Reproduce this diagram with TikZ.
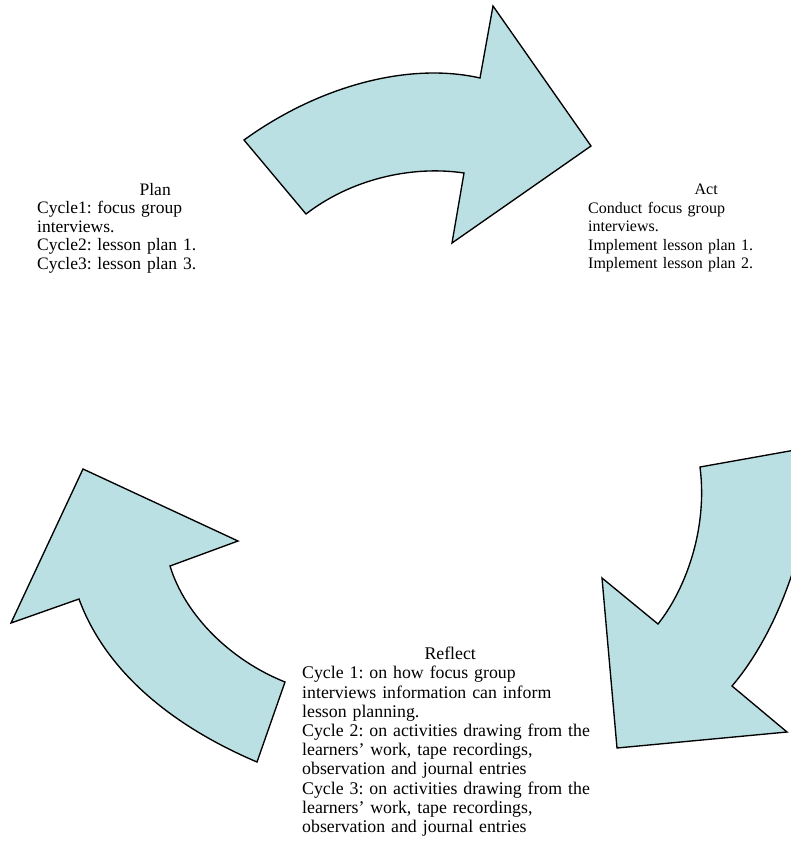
\documentclass[tikz,border=0pt]{standalone}
\usepackage{fontspec}
\setmainfont{Liberation Serif}
\frenchspacing
\definecolor{arrowfill}{RGB}{187,224,227}

\begin{document}
\begin{tikzpicture}[
    x = 1pt, y = -1pt, % pixel grid, y runs down
    line join = miter % sharp arrow corners
    ]

    \tikzset{bend arrow/.style={
    draw = black,
    line width = 1.35pt,
    fill = arrowfill
    }}
    \tikzset{stage/.style={
    inner sep = 0pt,
    anchor = north west,
    font = \fontsize{16}{18.5}\selectfont
    }}

    \useasboundingbox (0,0) rectangle (791,859);

    % plan -> act
    \draw[bend arrow] (244,140) .. controls (320,85) and (410,62) .. (480,78)
        -- (493,6) -- (591,146) -- (452,243) -- (464,173)
        .. controls (410,165) and (350,180) .. (306,214) -- cycle;
    % act -> reflect
    \draw[bend arrow] (700,467) -- (812,447)
        .. controls (815,530) and (780,630) .. (732,686)
        -- (787,732) -- (617,748) -- (602,578) -- (658,624)
        .. controls (685,590) and (708,530) .. (700,467) -- cycle;
    % reflect -> plan
    \draw[bend arrow] (83,469) -- (238,541) -- (170,566)
        .. controls (185,615) and (230,660) .. (285,682)
        -- (257,762)
        .. controls (170,725) and (105,670) .. (79,599)
        -- (11,623) -- cycle;

    \node[stage, text width=236pt, font=\fontsize{17.5}{18.5}\selectfont] (plan) at (37,183)
        {{\centering Plan\par}\raggedright Cycle1: focus group\\interviews.\\Cycle2: lesson plan 1.\\Cycle3: lesson plan 3.};
    \node[stage, text width=236pt] (act) at (588,184)
        {{\centering Act\par}\raggedright Conduct focus group\\interviews.\\Implement lesson plan 1.\\Implement lesson plan 2.};
    \node[stage, text width=296pt, font=\fontsize{17.8}{19.2}\selectfont] (reflect) at (302,647)
        {{\centering Reflect\par}\raggedright Cycle 1: on how focus group\\interviews information can inform\\lesson planning.\\Cycle 2: on activities drawing from the\\learners’ work, tape recordings,\\observation and journal entries\\Cycle 3: on activities drawing from the\\learners’ work, tape recordings,\\observation and journal entries};
\end{tikzpicture}
\end{document}
